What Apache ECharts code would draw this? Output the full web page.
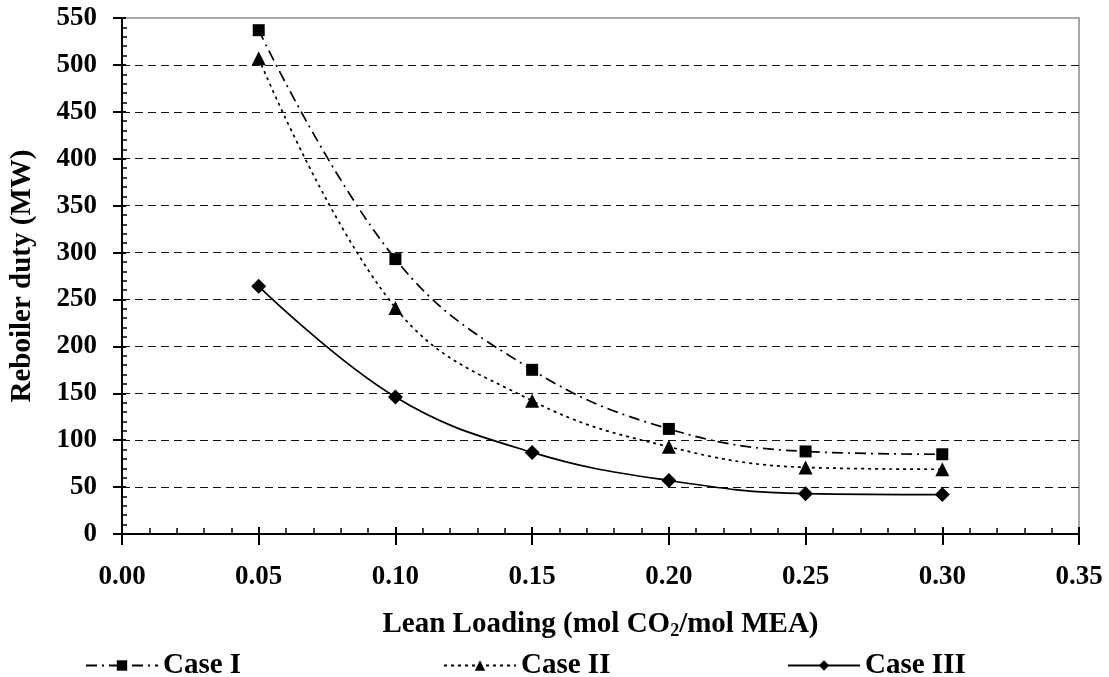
<!DOCTYPE html>
<html>
<head>
<meta charset="utf-8">
<script src="https://cdn.jsdelivr.net/npm/echarts@6/dist/echarts.min.js"></script>
<style>
  html, body { margin: 0; padding: 0; background: #fff; }
  #chart { width: 1109px; height: 677px; }
</style>
</head>
<body>
<div id="chart"></div>
<script>
// lean loading (mol CO2/mol MEA)
const leanLoading = [0.05, 0.10, 0.15, 0.20, 0.25, 0.30];
// reboiler duty (MW)
const caseI = [537, 293, 175, 112, 88, 85];
const caseII = [507, 241, 142, 93, 71, 69];
const caseIII = [264, 146, 87, 57, 43, 42];

const font = "'Liberation Serif', 'Times New Roman', serif";

function pairs( ys ) {
	return leanLoading.map( ( x, i ) => [ x, ys[i] ] );
}

const chart = echarts.init( document.getElementById( "chart" ) );

const labelStyle = { color: "#000", fontFamily: font, fontWeight: "bold", fontSize: 27 };
const titleStyle = { ...labelStyle, fontSize: 29 };

function makeSeries( name, ys, symbol, size, dash ) {
	return {
		name,
		type: "line",
		data: pairs( ys ),
		smooth: 0.4,
		symbol,
		symbolSize: size,
		xAxisIndex: 0,
		yAxisIndex: 0,
		itemStyle: { color: "#000" },
		lineStyle: { color: "#000", width: 1.7, type: dash }
	};
}

const legendBase = { top: 646, itemWidth: 72, itemHeight: 13, itemGap: 8, textStyle: { ...titleStyle } };

const option = {
	backgroundColor: "#fff",
	animation: false,
	grid: {
		left: 122, right: 30, top: 18, bottom: 143,
		show: true, borderColor: "#8c8c8c", borderWidth: 1.5
	},
	xAxis: [ {
		type: "value", min: 0, max: 0.35, interval: 0.05, position: "bottom",
		axisLine: { lineStyle: { color: "#000", width: 2 } },
		axisTick: { show: true, inside: false, length: 11, lineStyle: { color: "#000", width: 2 } },
		axisLabel: { ...labelStyle, margin: 30, formatter: v => v.toFixed( 2 ) },
		splitLine: { show: false },
		name: "{a|Lean Loading (mol CO}{s|2}{a|/mol MEA)}",
		nameLocation: "middle",
		nameGap: 76,
		nameTextStyle: {
			rich: {
				a: { ...titleStyle },
				s: { ...titleStyle, fontSize: 18, padding: [ 12, 0, 0, 0 ] }
			}
		}
	}, {
		type: "value", min: 0, max: 0.35, interval: 0.05, position: "bottom",
		axisLine: { show: false },
		axisTick: { show: true, inside: true, length: 7, lineStyle: { color: "#000", width: 2 } },
		minorTick: { show: true, splitNumber: 5, length: 6, lineStyle: { color: "#000", width: 1.5 } },
		axisLabel: { show: false },
		splitLine: { show: false }
	} ],
	yAxis: [ {
		type: "value", min: 0, max: 550, interval: 50, position: "left",
		axisLine: { show: true, lineStyle: { color: "#000", width: 2 } },
		axisTick: { show: true, inside: false, length: 9, lineStyle: { color: "#000", width: 2 } },
		axisLabel: { ...labelStyle, margin: 25 },
		splitLine: {
			show: true, showMinLine: false, showMaxLine: false,
			lineStyle: { color: "#111", width: 1, type: [ 8, 5 ] }
		},
		name: "Reboiler duty (MW)",
		nameLocation: "middle",
		nameGap: 85,
		nameTextStyle: { ...titleStyle }
	}, {
		type: "value", min: 0, max: 550, interval: 50, position: "left",
		axisLine: { show: false },
		axisTick: { show: true, inside: true, length: 4, lineStyle: { color: "#000", width: 2 } },
		minorTick: { show: true, splitNumber: 5, length: 5, lineStyle: { color: "#000", width: 1.5 } },
		axisLabel: { show: false },
		splitLine: { show: false }
	} ],
	legend: [
		{ ...legendBase, data: [ "Case I" ], left: 80 },
		{ ...legendBase, data: [ "Case II" ], left: 438 },
		{ ...legendBase, data: [ "Case III" ], left: 782 }
	],
	series: [
		makeSeries( "Case I", caseI, "rect", 12, [ 11, 5, 2, 5 ] ),
		makeSeries( "Case II", caseII, "triangle", 14, [ 3, 4 ] ),
		makeSeries( "Case III", caseIII, "diamond", 15, "solid" )
	]
};

chart.setOption( option );
</script>
</body>
</html>
